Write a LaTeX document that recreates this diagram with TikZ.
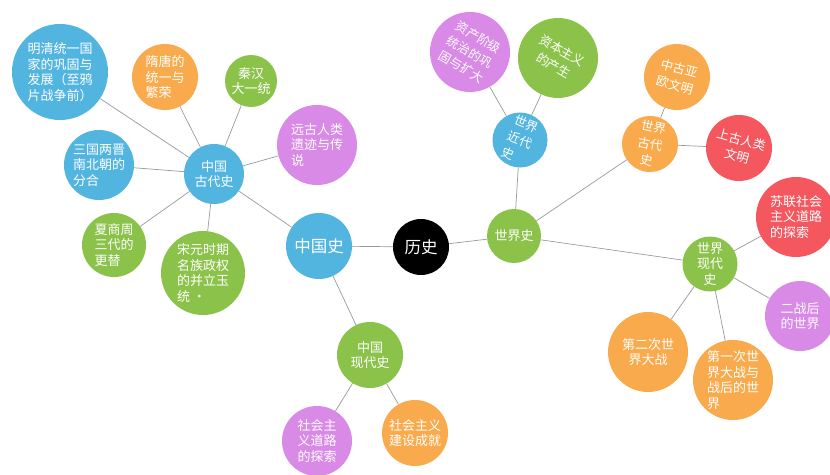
\documentclass[tikz,border=0pt]{standalone}
\usepackage{fontspec}
\newfontfamily\cjk{Noto Sans CJK SC}
\definecolor{cblue}{HTML}{52B5E0}
\definecolor{cgreen}{HTML}{8BC34A}
\definecolor{corange}{HTML}{F8AA4C}
\definecolor{cred}{HTML}{F4575E}
\definecolor{cpurple}{HTML}{D88AE6}
\begin{document}
\begin{tikzpicture}[x=1pt,y=-1pt,
  bub/.style={circle,inner sep=0pt,text=white,font=\cjk\fontsize{13}{15.5}\selectfont},
  big/.style={font=\cjk\fontsize{16.5}{19}\selectfont},
  tilt/.style={font=\cjk\fontsize{12.5}{17}\selectfont},
  link/.style={draw=black!40,line width=0.7pt}]
\useasboundingbox (0,0) rectangle (830,474);
% central
\node[bub,big,fill=black,minimum size=56pt] (ls) at (421,247) {历史};
\node[bub,big,fill=cblue,minimum size=66pt] (zgs) at (319,246) {中国史};
\node[bub,fill=cgreen,minimum size=54pt] (sjs) at (514,236) {世界史};
% Chinese ancient
\node[bub,fill=cblue,minimum size=60pt,align=center] (gd) at (214,174) {中国\\古代史};
\node[bub,fill=cblue,minimum size=96pt,align=left] (mq) at (60,72) {明清统一国\\家的巩固与\\发展（至鸦\\片战争前）};
\node[bub,fill=corange,minimum size=66pt,align=left] (st) at (165,77) {隋唐的\\统一与\\繁荣};
\node[bub,fill=cgreen,minimum size=52pt,align=center] (qh) at (251,81) {秦汉\\大一统};
\node[bub,fill=cpurple,minimum size=80pt,align=left] (yg) at (317,145) {远古人类\\遗迹与传\\说};
\node[bub,fill=cblue,minimum size=70pt,align=left] (sg) at (99,165) {三国两晋\\南北朝的\\分合};
\node[bub,fill=cgreen,minimum size=64pt,align=left] (xs) at (114,245) {夏商周\\三代的\\更替};
\node[bub,fill=cgreen,minimum size=84pt,align=left] (sy) at (203,273) {宋元时期\\名族政权\\的并立玉\\统 ·};
% Chinese modern
\node[bub,fill=cgreen,minimum size=66pt,align=center] (xd) at (370,355) {中国\\现代史};
\node[bub,fill=cpurple,minimum size=70pt,align=center] (shd) at (317,441) {社会主\\义道路\\的探索};
\node[bub,fill=corange,minimum size=66pt,align=center] (shj) at (415,433) {社会主义\\建设成就};
% World modern-era
\node[bub,tilt,fill=cblue,minimum size=55pt,align=left,rotate=-22] (jd) at (520,140) {世界\\近代\\史};
\node[bub,tilt,fill=cpurple,minimum size=80pt,align=center,rotate=-30] (zc) at (470,52) {资产阶级\\统治的巩\\固与扩大};
\node[bub,tilt,fill=cgreen,minimum size=80pt,align=center,rotate=-30] (zb) at (558,58) {资本主义\\的产生};
% World ancient
\node[bub,tilt,fill=corange,minimum size=56pt,align=center,rotate=-12] (sg2) at (650,144) {世界\\古代\\史};
\node[bub,tilt,fill=corange,minimum size=66pt,align=center,rotate=-15] (zgy) at (677,77) {中古亚\\欧文明};
\node[bub,tilt,fill=cred,minimum size=66pt,align=center,rotate=-15] (sgr) at (739,148) {上古人类\\文明};
% World contemporary
\node[bub,fill=cgreen,minimum size=55pt,align=center] (xdd) at (710,264) {世界\\现代\\史};
\node[bub,fill=cred,minimum size=80pt,align=left] (sl) at (796,217) {苏联社会\\主义道路\\的探索};
\node[bub,fill=cpurple,minimum size=70pt,align=right] (ez) at (800,316) {二战后\\的世界};
\node[bub,fill=corange,minimum size=80pt,align=center] (de) at (648,352) {第二次世\\界大战};
\node[bub,fill=corange,minimum size=80pt,align=left] (dy) at (733,380) {第一次世\\界大战与\\战后的世\\界};
% links
\draw[link] (ls) -- (zgs);
\draw[link] (ls) -- (sjs);
\draw[link] (zgs) -- (gd);
\draw[link] (zgs) -- (xd);
\draw[link] (gd) -- (mq);
\draw[link] (gd) -- (st);
\draw[link] (gd) -- (qh);
\draw[link] (gd) -- (yg);
\draw[link] (gd) -- (sg);
\draw[link] (gd) -- (xs);
\draw[link] (gd) -- (sy);
\draw[link] (xd) -- (shd);
\draw[link] (xd) -- (shj);
\draw[link] (sjs) -- (jd);
\draw[link] (sjs) -- (sg2);
\draw[link] (sjs) -- (xdd);
\draw[link] (jd) -- (zc);
\draw[link] (jd) -- (zb);
\draw[link] (sg2) -- (zgy);
\draw[link] (sg2) -- (sgr);
\draw[link] (xdd) -- (sl);
\draw[link] (xdd) -- (ez);
\draw[link] (xdd) -- (de);
\draw[link] (xdd) -- (dy);
\end{tikzpicture}
\end{document}
